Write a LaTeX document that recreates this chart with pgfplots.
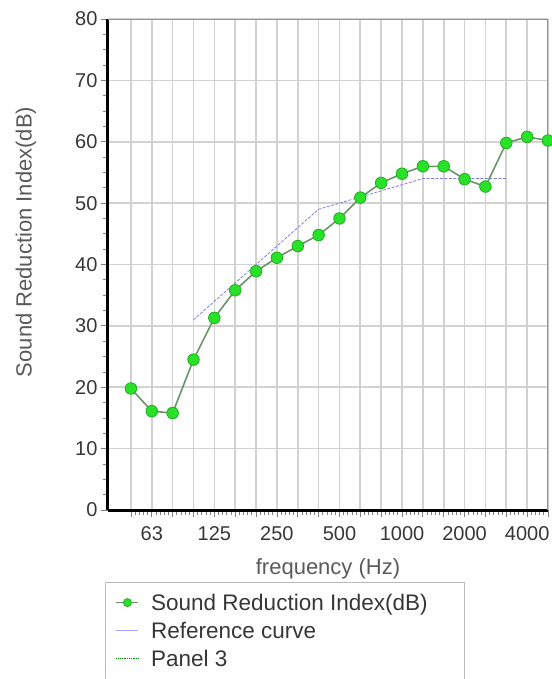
\documentclass[border=0pt]{standalone}
\usepackage{fontspec}
\setmainfont{Liberation Sans}
\usepackage{pgfplots}
\pgfplotsset{compat=1.18}
\definecolor{srigreen}{RGB}{40,225,40}
\definecolor{sriedge}{RGB}{30,175,30}
\definecolor{sriline}{RGB}{105,150,105}
\definecolor{refblue}{RGB}{125,125,230}
\definecolor{gridgray}{RGB}{210,210,210}
\definecolor{txt}{RGB}{55,55,55}
\definecolor{lbl}{RGB}{90,90,90}
\begin{document}
\begin{tikzpicture}
\path[use as bounding box] (-108pt,-169pt) rectangle (443pt,510pt);
\begin{axis}[
  at={(0pt,0pt)}, anchor=south west,
  scale only axis, width=440pt, height=491pt,
  xmin=-1.1, xmax=20, ymin=0, ymax=80,
  axis x line*=bottom, axis y line*=left,
  axis line style={line width=3pt, black, -},
  xtick={0,...,20},
  xticklabels={,63,,,125,,,250,,,500,,,1000,,,2000,,,4000,},
  ytick={0,10,...,80},
  minor y tick num=3, minor x tick num=4,
  tick align=outside, major tick length=7pt, minor tick length=5pt,
  tick style={gray, line width=0.8pt},
  grid=major, major grid style={gridgray, line width=1.7pt},
  /pgf/number format/assume math mode=true,
  ticklabel style={font=\fontsize{20}{22}\selectfont, text=txt},
  xticklabel style={anchor=base, yshift=-23pt},
  xlabel={frequency (Hz)},
  ylabel={Sound Reduction Index(dB)},
  every axis x label/.style={at={(axis description cs:0.5,0)}, anchor=base, yshift=-64pt, font=\fontsize{22}{24}\selectfont, text=lbl},
  every axis y label/.style={at={(axis description cs:0,0.546)}, xshift=-82pt, rotate=90, anchor=center, font=\fontsize{22}{24}\selectfont, text=lbl},
  legend cell align=left,
  legend image code/.code={\draw[mark repeat=2,mark phase=2, mark size=4pt] plot coordinates {(0pt,2pt) (11pt,2pt) (22pt,2pt)};},
  legend style={at={(axis description cs:0,0)}, anchor=north west, xshift=-3pt, yshift=-72pt,
    draw=gray!55, line width=1.2pt, fill=white, font=\fontsize{22.5}{26}\selectfont, text=txt,
    inner xsep=10pt, inner ysep=8pt, column sep=9pt,
    nodes={inner sep=3pt, text height=17pt, text depth=5pt}},
]
\addplot[refblue, line width=0.8pt, dash pattern=on 3pt off 1.5pt, forget plot] coordinates {
(3,31) (4,34) (5,37) (6,40) (7,43) (8,46) (9,49) (10,50) (11,51) (12,52) (13,53) (14,54) (15,54) (16,54) (17,54) (18,54)};
\addplot[sriline, line width=1.6pt, mark=*, mark size=5.8pt, mark options={fill=srigreen, draw=sriedge, line width=0.8pt}] coordinates {
(0,19.8) (1,16.1) (2,15.8) (3,24.5) (4,31.3) (5,35.8) (6,38.9) (7,41.1) (8,43.0) (9,44.8) (10,47.5) (11,50.9) (12,53.3) (13,54.8) (14,56.0) (15,56.0) (16,53.9) (17,52.7) (18,59.8) (19,60.8) (20,60.2)};
\addlegendentry{Sound Reduction Index(dB)\hspace*{24pt}}
\addlegendimage{blue!35!white, line width=0.8pt}
\addlegendentry{Reference curve}
\addlegendimage{green!55!black, densely dotted, line width=0.8pt}
\addlegendentry{Panel 3}
\draw[gray!85, line width=1.8pt] (rel axis cs:0,1) -- (rel axis cs:1,1) -- (rel axis cs:1,0);
\end{axis}
\end{tikzpicture}
\end{document}
